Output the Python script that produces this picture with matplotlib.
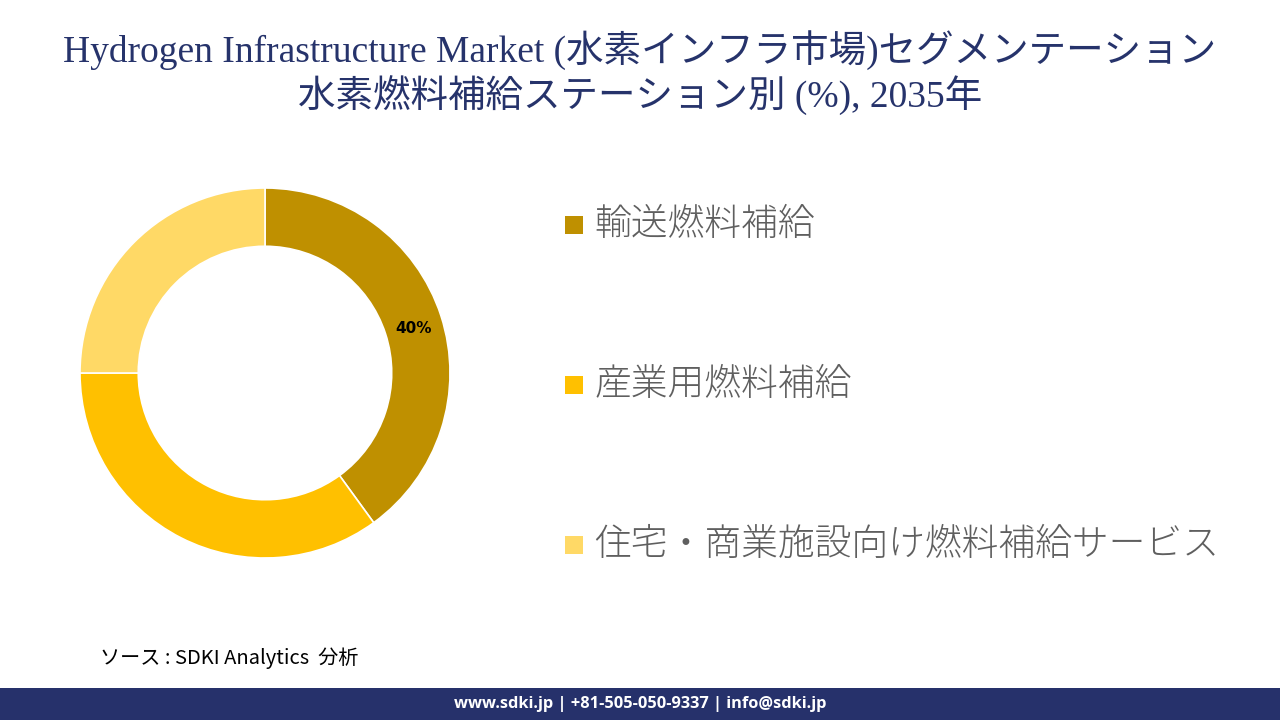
import numpy as np
import matplotlib.pyplot as plt
from matplotlib.patches import Rectangle

categories = ["輸送燃料補給", "産業用燃料補給", "住宅・商業施設向け燃料補給サービス"]
shares = [40, 35, 25]
shown_labels = ["40%", "", ""]
colors = ["#BF9000", "#FFC000", "#FFD966"]

title_1 = "Hydrogen Infrastructure Market (水素インフラ市場)セグメンテーション"
title_2 = "水素燃料補給ステーション別 (%), 2035年"
source = "ソース : SDKI Analytics  分析"
footer = "www.sdki.jp | +81-505-050-9337 | info@sdki.jp"

plt.rcParams["font.family"] = ["Noto Sans CJK JP", "DejaVu Sans"]

fig = plt.figure(figsize=(12.8, 7.2), dpi=100)
fig.patch.set_facecolor("white")

# ---------------------------
# Title
# ---------------------------
navy = "#26336B"
serif = ["Liberation Serif", "Noto Sans CJK JP"]
fig.text(0.5, 1 - 50 / 720, title_1, ha="center", va="center",
         fontsize=27, color=navy, family=serif)
fig.text(0.5, 1 - 96 / 720, title_2, ha="center", va="center",
         fontsize=27, color=navy, family=serif)

# ---------------------------
# Donut
# ---------------------------
ax = fig.add_axes([80 / 1280, 1 - 558 / 720, 370 / 1280, 370 / 720])
wedges, _ = ax.pie(shares, colors=colors, startangle=90, counterclock=False,
                   radius=1.0,
                   wedgeprops=dict(width=0.315, edgecolor="white", linewidth=1.2))
ax.set_aspect("equal")
ax.set_xlim(-1, 1)
ax.set_ylim(-1, 1)

for w, lab in zip(wedges, shown_labels):
    mid = np.deg2rad((w.theta1 + w.theta2) / 2)
    if lab:
        r = 1 - 0.315 / 2
        ax.text(r * np.cos(mid), r * np.sin(mid) - 0.02, lab, ha="center", va="center",
                fontsize=11, fontweight="bold", color="black",
                family=["DejaVu Sans"])

# ---------------------------
# Legend
# ---------------------------
legend_y = [225, 385, 545]
for cat, col, y in zip(categories, colors, legend_y):
    fig.patches.append(Rectangle((565 / 1280, 1 - (y + 9) / 720), 18 / 1280, 18 / 720,
                                 transform=fig.transFigure, facecolor=col,
                                 edgecolor="none"))
    fig.text(594 / 1280, 1 - y / 720, cat, ha="left", va="center",
             fontsize=26.5, color="#5F5F5F", fontweight="light")

# ---------------------------
# Source + footer
# ---------------------------
fig.text(100 / 1280, 1 - 658 / 720, source, ha="left", va="center",
         fontsize=14.5, style="italic", color="black")

fig.patches.append(Rectangle((0, 0), 1, 32 / 720, transform=fig.transFigure,
                             facecolor="#26316B", edgecolor="none"))
fig.text(0.5, 16 / 720, footer, ha="center", va="center", fontsize=11.8,
         fontweight="bold", color="white", family=["Open Sans", "DejaVu Sans"])

plt.savefig("out.png", dpi=100)
plt.close()
